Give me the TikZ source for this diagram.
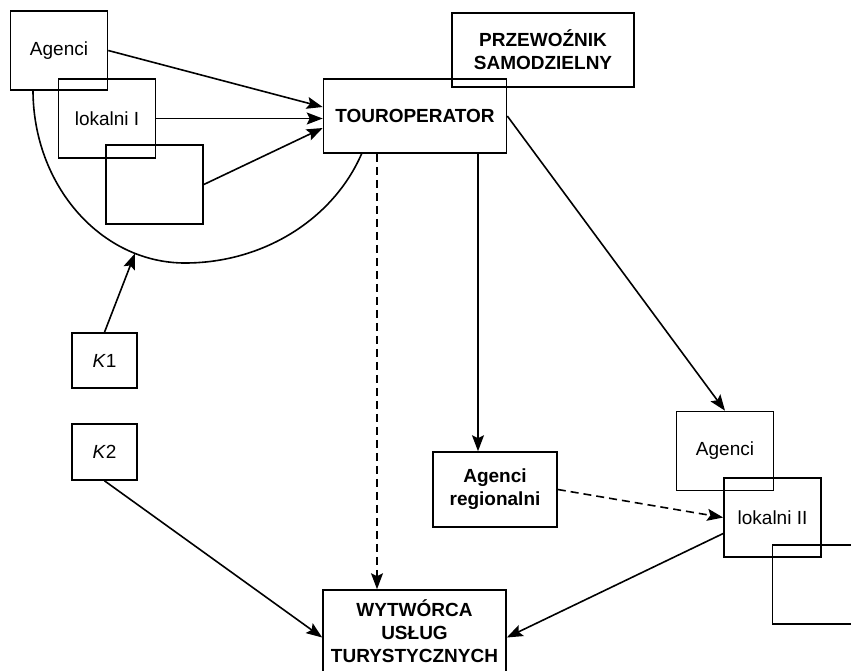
\documentclass[tikz,border=0pt]{standalone}
\usepackage{fontspec}
\setmainfont{Liberation Sans}
\usetikzlibrary{arrows.meta,calc}

\begin{document}
\begin{tikzpicture}[x=0.5pt,y=-0.5pt,
    box/.style={draw,line width=0.8pt,inner sep=0pt,align=center,
        font=\fontsize{9.5}{11.5}\selectfont},
    smallbox/.style={box,minimum width=48.5pt,minimum height=39.5pt},
    kbox/.style={box,minimum width=32.5pt,minimum height=27.5pt},
    bigbox/.style={box,font=\fontsize{9.5}{11.5}\selectfont\bfseries,
        minimum width=91.5pt,minimum height=37pt},
    arr/.style={-{Stealth[length=8pt,width=6pt,inset=1.5pt]},line width=0.8pt},
    dashline/.style={arr,dash pattern=on 4pt off 2.5pt}]
        \useasboundingbox (0,0) rectangle (851,670);
        \clip (0,0) rectangle (851,670);

        %local agents I
        \node[smallbox] (agenci1) at (59,50.5) {Agenci};
        \node[smallbox] (lokalni1) at (107,118.5) {lokalni I};
        \node[smallbox] (empty1) at (154.5,184.5) {};

        %touroperator and carrier
        \node[bigbox] (tour) at (415,116) {TOUROPERATOR};
        \node[bigbox,minimum width=91pt] (przew) at (543,50) {PRZEWOŹNIK\\SAMODZIELNY};

        %k1, k2
        \node[kbox] (k1) at (104.5,360.5) {\textit{K}1};
        \node[kbox,minimum height=28pt] (k2) at (104.5,452) {\textit{K}2};

        %regional agents
        \node[bigbox,minimum width=62pt,minimum height=37.5pt] (agreg) at (495,489.5) {Agenci\\regionalni};

        %local agents II
        \node[smallbox] (agenci2) at (725,451) {Agenci};
        \node[smallbox] (lokalni2) at (772.5,517.5) {lokalni II};
        \node[smallbox] (empty2) at (821,584.5) {};

        %producer
        \node[bigbox,minimum height=41.5pt] (wyt) at (414.5,631.5) {WYTWÓRCA\\USŁUG\\TURYSTYCZNYCH};

        %group curve
        \coordinate (grp) at (185,90);
        \draw[line width=0.8pt] (33,90) arc[start angle=180,end angle=270,x radius=76pt,y radius=86.5pt]
            arc[start angle=270,end angle=338.6,x radius=95pt,y radius=86.5pt];
        \coordinate (grpk1) at ([shift={(250.8:76pt and 86.5pt)}]grp);

        %arrows to touroperator
        \draw[arr] (agenci1.east) -- ([yshift=4.5pt]tour.west);
        \draw[arr] (lokalni1.east) -- (lokalni1.east -| tour.west);
        \draw[arr] (empty1.east) -- ([yshift=-6pt]tour.west);

        %k arrows
        \draw[arr] (k1.north) -- (grpk1);
        \draw[arr] (k2.south) -- ([yshift=-3pt]wyt.west);

        %from touroperator
        \draw[dashline] ([xshift=-19pt]tour.south) -- ([xshift=-19pt]tour.south |- wyt.north);
        \draw[arr] ([xshift=31.5pt]tour.south) -- ([xshift=31.5pt]tour.south |- agreg.north);
        \draw[arr] (tour.east) -- (agenci2.north);

        %to local agents II and producer
        \draw[dashline] (agreg.east) -- (lokalni2.west);
        \draw[arr] ([yshift=-8pt]lokalni2.west) -- ([yshift=-3pt]wyt.east);
\end{tikzpicture}
\end{document}
